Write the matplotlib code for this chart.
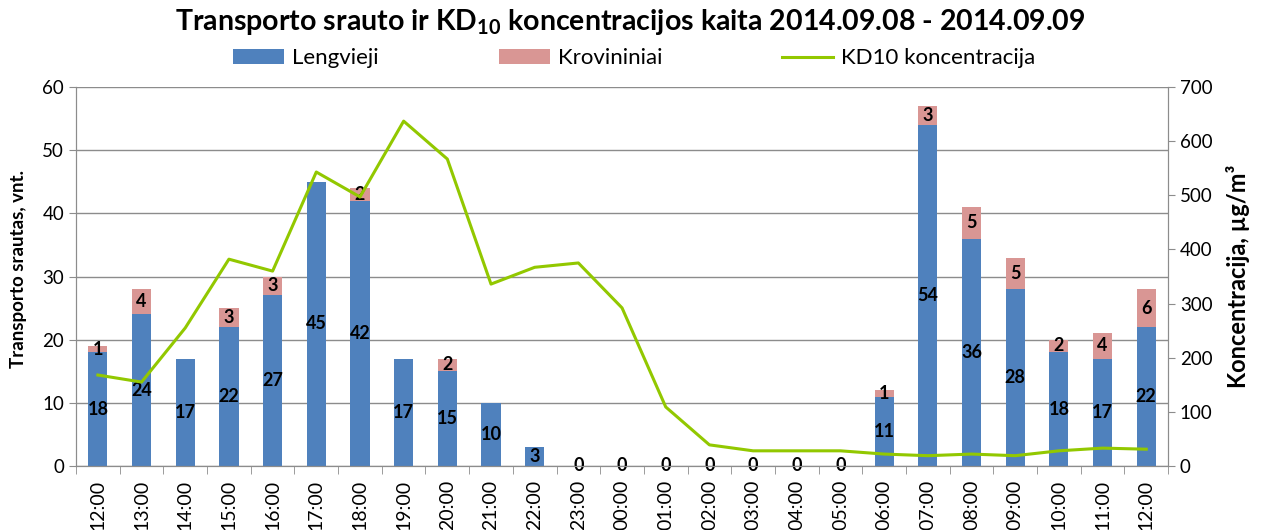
import matplotlib

matplotlib.use("Agg")
import matplotlib.pyplot as plt
import numpy as np

hours = ["12:00", "13:00", "14:00", "15:00", "16:00", "17:00", "18:00", "19:00",
         "20:00", "21:00", "22:00", "23:00", "00:00", "01:00", "02:00", "03:00",
         "04:00", "05:00", "06:00", "07:00", "08:00", "09:00", "10:00", "11:00", "12:00"]
lengvieji = [18, 24, 17, 22, 27, 45, 42, 17, 15, 10, 3, 0, 0, 0, 0, 0, 0, 0,
             11, 54, 36, 28, 18, 17, 22]
krovininiai = [1, 4, 0, 3, 3, 0, 2, 0, 2, 0, 0, 0, 0, 0, 0, 0, 0, 0,
               1, 3, 5, 5, 2, 4, 6]
kd10 = [168, 155, 255, 382, 360, 543, 497, 637, 567, 336, 367, 375, 292, 109,
        39, 28, 28, 28, 22, 19, 22, 19, 28, 33, 31]

plt.rcParams["font.family"] = ["Lato", "DejaVu Sans"]
plt.rcParams["mathtext.fontset"] = "custom"
plt.rcParams["mathtext.rm"] = "Lato"
plt.rcParams["mathtext.bf"] = "Lato:bold"

blue = "#4F81BD"
pink = "#D99694"
green = "#92C800"
grid_c = "#8C8C8C"

fig = plt.figure(figsize=(12.61, 5.30), dpi=100)
ax = fig.add_axes([0.0603, 0.1208, 0.8660, 0.7150])
x = np.arange(len(hours))
w = 0.44

b1 = ax.bar(x, lengvieji, w, color=blue, label="Lengvieji", zorder=2)
b2 = ax.bar(x, krovininiai, w, bottom=lengvieji, color=pink, label="Krovininiai", zorder=2)

for i, (l, k) in enumerate(zip(lengvieji, krovininiai)):
    ax.text(i, l / 2, str(l), ha="center", va="center", fontsize=13,
            fontweight="bold", color="black", zorder=5)
    if k:
        ax.text(i, l + k / 2, str(k), ha="center", va="center", fontsize=13,
                fontweight="bold", color="black", zorder=5)

ax.set_xlim(-0.5, len(hours) - 0.5)
ax.set_ylim(0, 60)
ax.set_yticks(range(0, 61, 10))
ax.set_xticks(x)
ax.set_xticklabels(hours, rotation=90, fontsize=14)
ax.set_xticks(np.arange(-0.5, len(hours), 1), minor=True)
ax.tick_params(axis="x", which="major", length=0, pad=10)
ax.tick_params(axis="x", which="minor", length=6, color=grid_c)
ax.tick_params(axis="y", length=5, color=grid_c, labelsize=13.5)
ax.grid(axis="y", color=grid_c, linewidth=1, zorder=0)
ax.set_axisbelow(True)
ax.set_ylabel("Transporto srautas, vnt.", fontsize=13.5, fontweight="bold")
ax.yaxis.set_label_coords(-0.045, 0.52)
ax.spines["top"].set_visible(False)
for s in ["left", "bottom", "right"]:
    ax.spines[s].set_color(grid_c)

ax2 = ax.twinx()
ln, = ax2.plot(x, kd10, color=green, linewidth=2.2, label="KD10 koncentracija", zorder=3)
ax2.set_ylim(0, 700)
ax2.set_yticks(range(0, 701, 100))
ax2.tick_params(axis="y", length=5, color=grid_c, labelsize=13.5)
ax2.set_ylabel("Koncentracija, µg/m³", fontsize=17, fontweight="bold")
ax2.yaxis.set_label_coords(1.053, 0.5)
ax2.spines["top"].set_visible(False)
for s in ["left", "bottom", "right"]:
    ax2.spines[s].set_color(grid_c)

fig.text(0.5, 0.958, r"Transporto srauto ir KD$\mathbf{_{10}}$ koncentracijos kaita 2014.09.08 - 2014.09.09",
         ha="center", va="center", fontsize=20.5, fontweight="bold")
fig.legend([b1, b2, ln], ["Lengvieji", "Krovininiai", "KD10 koncentracija"],
           loc="center", bbox_to_anchor=(0.503, 0.89), ncol=3, frameon=False,
           fontsize=16, handlelength=2.3, handleheight=0.65, columnspacing=5.4,
           handletextpad=0.35)

fig.savefig("out.png", dpi=100)
plt.close(fig)
